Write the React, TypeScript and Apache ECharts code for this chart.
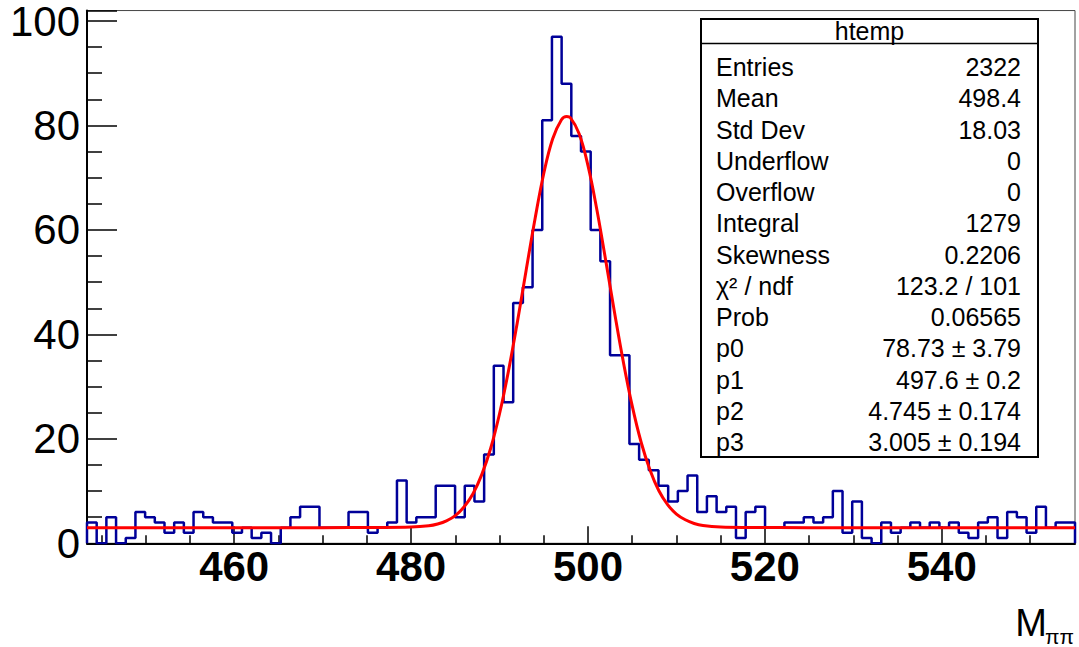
import React, { useEffect, useRef } from "react";
import * as echarts from "echarts";

// Histogram range (axis limits) and bin contents, 102 bins
const X_MIN = 443.36;
const X_MAX = 555.06;
const Y_MAX = 102;
const BIN_COUNTS = [
  4, 0, 5, 0, 1, 6, 5, 4, 2, 4,
  2, 6, 5, 4, 4, 2, 3, 1, 2, 0,
  3, 5, 7, 7, 3, 3, 3, 6, 6, 2,
  3, 4, 12, 4, 5, 5, 11, 11, 5, 11,
  8, 17, 34, 27, 46, 49, 60, 81, 97, 88,
  78, 75, 60, 54, 36, 36, 19, 16, 14, 11,
  8, 10, 13, 6, 9, 6, 7, 1, 6, 7,
  3, 3, 4, 4, 5, 4, 5, 10, 2, 8,
  1, 0, 4, 2, 3, 4, 3, 4, 3, 4,
  2, 1, 4, 5, 1, 6, 5, 2, 7, 3,
  4, 4,
];

// Red fit curve
const FIT_X = [
  443.36, 460, 470, 476, 480, 482, 483, 484, 485, 486, 487, 488, 489, 490,
  491, 492, 493, 494, 495, 496, 497, 497.6, 498, 499, 500, 501, 502, 503,
  504, 505, 506, 507, 508, 509, 510, 511, 512, 513, 515, 518, 525, 540, 555.06,
];
const FIT_Y = [
  3.0, 3.0, 3.0, 3.02, 3.1, 3.35, 3.7, 4.3, 5.3, 7.0, 9.5, 13.2, 18.2, 24.8,
  32.9, 42.2, 52.2, 62.0, 70.8, 77.4, 81.1, 81.7, 81.5, 78.4, 72.3, 63.9, 54.2, 44.2,
  34.7, 26.3, 19.4, 14.1, 10.1, 7.4, 5.6, 4.5, 3.8, 3.4, 3.1, 3.02, 3.0, 3.0, 3.0,
];

const STAT_LABELS = [
  "Entries", "Mean", "Std Dev", "Underflow", "Overflow", "Integral", "Skewness",
  "χ² / ndf", "Prob", "p0", "p1", "p2", "p3",
];
const STAT_VALUES = [
  "2322", "498.4", "18.03", "0", "0", "1279", "0.2206", "123.2 / 101", "0.06565",
  "78.73 ± 3.79", "497.6 ± 0.2", "4.745 ± 0.174", "3.005 ± 0.194",
];
const STAT_TITLE = "htemp";
const X_TITLE = "M";
const X_TITLE_SUB = "ππ";

const FONT = "Liberation Sans";

export default function App() {
  const ref = useRef<HTMLDivElement>(null);

  useEffect(() => {
    if (!ref.current) return;
    const chart = echarts.init(ref.current, undefined, { renderer: "svg" });

    const binW = (X_MAX - X_MIN) / BIN_COUNTS.length;
    const histData: number[][] = [[X_MIN, 0]];
    BIN_COUNTS.forEach((c, i) => histData.push([X_MIN + i * binW, c]));
    histData.push([X_MAX, BIN_COUNTS[BIN_COUNTS.length - 1]]);
    histData.push([X_MAX, 0]);

    const fitData = FIT_X.map((x, i) => [x, FIT_Y[i]]);

    const boxL = 701, boxR = 1038, boxT = 19, boxB = 457, sepY = 43.5;
    const rowY0 = 67, rowStep = 31.25;

    const graphics: any[] = [
      {
        type: "rect",
        shape: { x: boxL, y: boxT, width: boxR - boxL, height: boxB - boxT },
        style: { fill: "#fff", stroke: "#000", lineWidth: 2 },
        z: 10,
      },
      {
        type: "line",
        shape: { x1: boxL, y1: sepY, x2: boxR, y2: sepY },
        style: { stroke: "#000", lineWidth: 1.5 },
        z: 11,
      },
      {
        type: "text",
        x: (boxL + boxR) / 2,
        y: (boxT + sepY) / 2,
        style: {
          text: STAT_TITLE, fill: "#000", fontSize: 25, fontFamily: FONT,
          align: "center", verticalAlign: "middle",
        },
        z: 11,
      },
    ];
    STAT_LABELS.forEach((lab, i) => {
      graphics.push({
        type: "text",
        x: 716,
        y: rowY0 + i * rowStep,
        style: {
          text: lab, fill: "#000", fontSize: 25, fontFamily: FONT,
          align: "left", verticalAlign: "middle",
        },
        z: 11,
      });
      graphics.push({
        type: "text",
        x: 1021,
        y: rowY0 + i * rowStep,
        style: {
          text: STAT_VALUES[i], fill: "#000", fontSize: 25, fontFamily: FONT,
          align: "right", verticalAlign: "middle",
        },
        z: 11,
      });
    });
    graphics.push({
      type: "text",
      x: 1047,
      y: 623,
      style: {
        text: X_TITLE, fill: "#000", fontSize: 38, fontFamily: FONT,
        align: "right", verticalAlign: "middle",
      },
    });
    graphics.push({
      type: "text",
      x: 1074,
      y: 636,
      style: {
        text: X_TITLE_SUB, fill: "#000", fontSize: 21, fontFamily: FONT,
        align: "right", verticalAlign: "middle",
      },
    });

    chart.setOption({
      animation: false,
      backgroundColor: "#fff",
      grid: {
        left: 87, top: 8, width: 988, height: 535.3,
        show: true, borderColor: "#444", borderWidth: 1,
        backgroundColor: "transparent",
      },
      xAxis: {
        type: "value",
        min: X_MIN,
        max: X_MAX,
        splitNumber: 5,
        minInterval: 20,
        maxInterval: 20,
        axisLine: { show: true, onZero: false, lineStyle: { color: "#000", width: 2 } },
        axisTick: { show: true, inside: true, length: 17, lineStyle: { color: "#000", width: 1.5 } },
        minorTick: { show: true, splitNumber: 4, length: 8, lineStyle: { color: "#000", width: 1.5 } },
        axisLabel: {
          showMinLabel: false, showMaxLabel: false,
          fontSize: 42, fontWeight: "bold", fontFamily: FONT, color: "#000", margin: 5,
          lineHeight: 36,
        },
        splitLine: { show: false },
        minorSplitLine: { show: false },
      },
      yAxis: {
        type: "value",
        min: 0,
        max: Y_MAX,
        splitNumber: 5,
        minInterval: 20,
        maxInterval: 20,
        axisLine: { show: true, onZero: false, lineStyle: { color: "#000", width: 2 } },
        axisTick: { show: true, inside: true, length: 30, lineStyle: { color: "#000", width: 1.5 } },
        minorTick: { show: true, splitNumber: 4, length: 15, lineStyle: { color: "#000", width: 1.5 } },
        axisLabel: {
          showMaxLabel: false,
          fontSize: 42, fontFamily: FONT, color: "#000", margin: 7,
          lineHeight: 32,
        },
        splitLine: { show: false },
        minorSplitLine: { show: false },
      },
      series: [
        {
          type: "line",
          step: "end",
          data: histData,
          symbol: "none",
          lineStyle: { color: "#000099", width: 2.5 },
          z: 2,
        },
        {
          type: "line",
          data: fitData,
          symbol: "none",
          smooth: 0.4,
          lineStyle: { color: "#ff0000", width: 3 },
          z: 3,
        },
      ],
      graphic: graphics,
    });

    return () => chart.dispose();
  }, []);

  return (
    <div
      ref={ref}
      style={{ position: "absolute", left: 0, top: 0, width: 1079, height: 647 }}
    />
  );
}
